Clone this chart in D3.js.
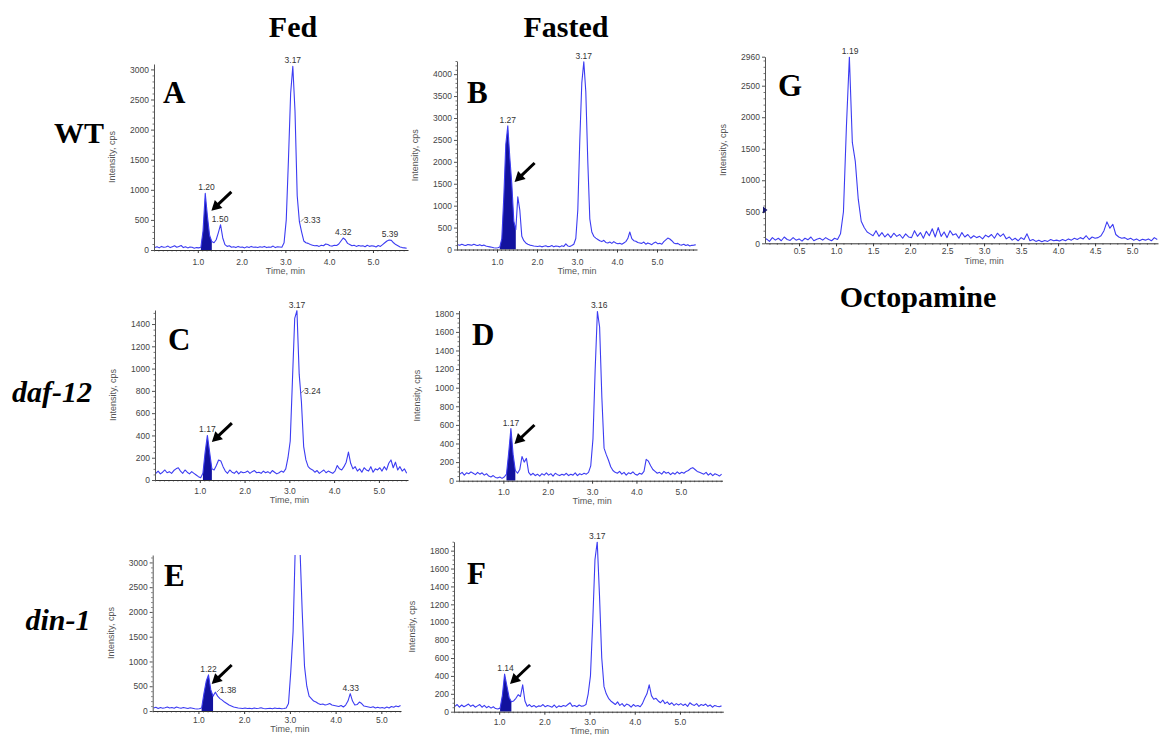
<!DOCTYPE html>
<html><head><meta charset="utf-8">
<script src="https://cdn.jsdelivr.net/npm/d3@7"></script>
<style>body{margin:0;background:#fff}</style>
</head><body><svg id="c" width="1160" height="735"></svg>
<script>
// ---- sampling grid (instrument scan times) ----
const tStart = 0.02, tStep = 0.05, tStepG = 0.04;

// ---- intensities (cps) ----
const valsA = [
 40,55,35,60,45,50,65,40,55,70,
 45,60,75,40,55,35,50,45,30,40,
 35,45,320,940,560,240,140,120,170,290,
 420,200,90,60,70,45,55,40,60,45,
 50,35,55,40,60,45,50,40,55,45,
 60,40,50,45,65,40,55,50,45,120,
 500,1500,2600,3050,2300,900,470,300,150,120,
 110,90,80,70,75,60,80,70,100,90,
 70,65,80,75,100,150,200,170,110,90,
 70,80,60,75,65,70,55,80,60,70,
 65,50,75,60,90,120,150,165,160,120,
 90,70,50,40,35,30];
const valsB = [
 110,95,120,100,90,115,105,95,120,100,
 90,110,85,100,80,70,60,50,40,35,
 40,55,250,1200,2400,2820,2100,1500,650,450,
 1200,900,300,200,150,120,100,90,80,75,
 70,80,60,75,85,65,70,90,60,80,
 75,60,85,70,130,80,70,90,120,250,
 900,2500,3800,4280,3600,2000,700,400,300,260,
 230,200,180,210,160,150,170,140,180,150,
 130,140,120,150,180,250,400,250,200,190,
 160,150,140,170,120,150,130,110,150,170,
 130,140,120,180,220,260,240,200,150,130,
 140,110,100,120,90,110,80,95,100,110];
const valsC = [
 60,80,55,70,90,65,75,60,85,100,
 110,80,60,90,70,55,75,60,45,30,
 20,60,250,400,250,100,90,130,180,170,
 120,80,60,90,70,60,80,55,75,65,
 70,80,60,75,85,65,70,60,80,65,
 75,60,85,70,55,65,80,70,100,200,
 350,900,1450,1520,950,700,300,180,120,100,
 90,70,85,60,75,90,65,80,70,60,
 80,130,100,90,120,160,250,150,100,120,
 80,100,70,110,90,80,120,70,100,90,
 110,80,120,90,150,180,110,160,90,120,
 80,100,60];
const valsD = [
 70,90,60,85,75,95,80,65,90,70,
 85,60,75,50,40,55,35,30,40,25,
 40,70,300,560,280,110,80,120,260,200,
 240,90,60,80,55,70,50,75,60,85,
 60,75,50,80,65,55,70,60,80,55,
 70,60,85,55,75,65,80,70,90,160,
 450,1200,1820,1650,900,350,280,220,150,110,
 90,80,100,70,90,60,85,75,95,70,
 60,80,70,100,230,210,160,120,100,80,
 90,70,100,80,90,65,85,70,95,75,
 90,80,100,110,130,140,120,100,90,80,
 70,90,60,80,55,75,65,50,70];
const valsE = [
 60,75,50,70,55,65,80,60,70,55,
 80,65,55,70,60,50,65,55,45,40,
 45,60,350,600,730,430,300,380,300,250,
 220,180,150,120,100,80,70,60,55,50,
 60,50,55,45,60,50,55,65,50,45,
 50,55,45,60,50,55,45,50,60,150,
 800,1600,3400,3500,3300,2000,900,500,300,250,
 200,180,150,130,140,120,130,150,120,110,
 100,90,110,80,120,200,350,200,120,130,
 180,150,100,90,80,70,85,60,75,60,
 70,55,80,60,90,75,100,85,110];
const valsF = [
 60,80,50,75,55,70,85,60,75,50,
 65,80,50,70,45,60,40,55,35,30,
 40,180,420,290,160,110,120,150,190,170,
 300,120,60,80,55,70,50,65,60,80,
 55,70,60,50,75,45,65,55,70,60,
 80,100,60,70,55,75,60,65,80,200,
 400,1000,1700,1900,1300,600,280,200,150,120,
 100,80,110,70,90,60,85,75,50,80,
 60,70,55,90,150,200,300,180,140,150,
 120,100,130,90,110,80,100,70,90,75,
 90,70,85,60,100,80,70,90,60,80,
 70,85,60,75,50,70,60,55,65];
const valsG = [
 40,70,30,90,50,80,40,100,60,45,
 90,50,70,35,80,55,100,40,65,80,
 50,90,60,40,80,60,150,500,1850,2960,
 1600,1300,700,350,250,180,150,120,200,110,
 170,100,150,90,160,110,140,80,150,100,
 90,200,110,170,80,190,120,230,100,250,
 110,180,90,200,130,150,80,170,100,140,
 80,120,90,110,70,130,100,140,80,160,
 110,150,70,100,50,80,40,90,60,150,
 40,60,30,50,25,45,30,60,40,50,
 35,60,40,70,50,80,60,90,70,120,
 60,100,80,90,120,200,340,240,300,140,
 100,80,90,60,80,50,70,40,65,50,
 70,40,90,60];

// ---- tick labels ----
const xTicks = [1.0, 2.0, 3.0, 4.0, 5.0];
const xTicksG = [0.5, 1.0, 1.5, 2.0, 2.5, 3.0, 3.5, 4.0, 4.5, 5.0];
const yTicksA = [0, 500, 1000, 1500, 2000, 2500, 3000];
const yTicksB = [0, 500, 1000, 1500, 2000, 2500, 3000, 3500, 4000];
const yTicksC = [0, 200, 400, 600, 800, 1000, 1200, 1400];
const yTicksD = [0, 200, 400, 600, 800, 1000, 1200, 1400, 1600, 1800];
const yTicksE = [0, 500, 1000, 1500, 2000, 2500, 3000];
const yTicksF = [0, 200, 400, 600, 800, 1000, 1200, 1400, 1600, 1800];
const yTicksG = [0, 500, 1000, 1500, 2000, 2500, 2960];

// ---- peak annotations: [label, time, intensity] ----
const peaksA = [["1.20", 1.20, 940], ["1.50", 1.51, 420], ["3.17", 3.17, 3050], ["4.32", 4.32, 200], ["5.39", 5.39, 165]];
const peaksB = [["1.27", 1.27, 2820], ["3.17", 3.17, 4280]];
const peaksC = [["1.17", 1.17, 400], ["3.17", 3.17, 1520]];
const peaksD = [["1.17", 1.17, 560], ["3.16", 3.16, 1820]];
const peaksE = [["1.22", 1.22, 730], ["4.33", 4.33, 350]];
const peaksF = [["1.14", 1.14, 420], ["3.17", 3.17, 1900]];
const peaksG = [["1.19", 1.19, 2960]];
const shouldersA = [["3.33", 3.33, 470]];
const shouldersC = [["3.24", 3.24, 780]];
const shouldersE = [["1.38", 1.38, 380]];

// ---- integrated (filled) octopamine peak windows [t0, t1] ----
const fillA = [1.07, 1.32];
const fillB = [1.07, 1.47];
const fillC = [1.07, 1.27];
const fillD = [1.07, 1.27];
const fillE = [1.07, 1.32];
const fillF = [1.02, 1.27];
// arrow tips [time, intensity]
const arrowA = [1.31, 650];
const arrowB = [1.44, 1540];
const arrowC = [1.27, 340];
const arrowD = [1.25, 395];
const arrowE = [1.29, 545];
const arrowF = [1.24, 310];

const SANS = "'Liberation Sans Narrow','Arial Narrow','Liberation Sans',Arial,sans-serif";
const SERIF = "'Liberation Serif','Times New Roman',serif";
const LINE = "#3c3cf2", FILL = "#12129e";
const TICKFS = 8.5;

const svg = d3.select("#c");
svg.append("rect").attr("width", 1160).attr("height", 735).attr("fill", "#fff");
const defs = svg.append("defs");

const panels = [
 {id:"A", vals:valsA, dt:tStep, xd:[0,5.8], xr:[154,408], yd:[0,3090], yr:[250,64], yTicks:yTicksA, yMinor:100, xTicks:xTicks, peaks:peaksA, shoulders:shouldersA, fill:fillA, arrow:arrowA, letter:[163,103], tickDy:15, timeDy:24},
 {id:"B", vals:valsB, dt:tStep, xd:[0,6.0], xr:[457,697], yd:[0,4300], yr:[249.5,61], yTicks:yTicksB, yMinor:100, xTicks:xTicks, peaks:peaksB, shoulders:[], fill:fillB, arrow:arrowB, letter:[467,103], tickDy:15, timeDy:24},
 {id:"G", vals:valsG, dt:tStepG, xd:[0.04,5.35], xr:[765,1158], yd:[0,2960], yr:[243.3,56.7], yTicks:yTicksG, yMinor:100, xTicks:xTicksG, peaks:peaksG, shoulders:[], fill:null, arrow:null, letter:[778,96], tickDy:11, timeDy:21},
 {id:"C", vals:valsC, dt:tStep, xd:[0,5.65], xr:[155,408], yd:[0,1526], yr:[480,310], yTicks:yTicksC, yMinor:50, xTicks:xTicks, peaks:peaksC, shoulders:shouldersC, fill:fillC, arrow:arrowC, letter:[168,350], tickDy:14, timeDy:23},
 {id:"D", vals:valsD, dt:tStep, xd:[0,5.94], xr:[459,722.5], yd:[0,1830], yr:[480.7,310.5], yTicks:yTicksD, yMinor:50, xTicks:xTicks, peaks:peaksD, shoulders:[], fill:fillD, arrow:arrowD, letter:[472,345], tickDy:14, timeDy:23},
 {id:"E", vals:valsE, dt:tStep, xd:[0,5.43], xr:[152.7,401], yd:[0,3150], yr:[711,555], yTicks:yTicksE, yMinor:100, xTicks:xTicks, peaks:peaksE, shoulders:shouldersE, fill:fillE, arrow:arrowE, letter:[164,586], tickDy:12, timeDy:21},
 {id:"F", vals:valsF, dt:tStep, xd:[0,5.96], xr:[454,723.3], yd:[0,1900], yr:[711.7,541.7], yTicks:yTicksF, yMinor:50, xTicks:xTicks, peaks:peaksF, shoulders:[], fill:fillF, arrow:arrowF, letter:[467,584], tickDy:13, timeDy:22}
];

function drawArrow(g, tip) {
  const tail = [tip[0] + 20, tip[1] - 19];
  const dx = tip[0] - tail[0], dy = tip[1] - tail[1], L = Math.hypot(dx, dy);
  const ux = dx / L, uy = dy / L, hl = 10, hw = 5.5;
  const base = [tip[0] - ux * hl, tip[1] - uy * hl];
  g.append("line").attr("x1", tail[0]).attr("y1", tail[1]).attr("x2", base[0] + ux * 1).attr("y2", base[1] + uy * 1)
    .attr("stroke", "#000").attr("stroke-width", 3);
  g.append("path").attr("d", `M${tip[0]},${tip[1]}L${base[0] - uy * hw},${base[1] + ux * hw}L${base[0] + uy * hw},${base[1] - ux * hw}Z`)
    .attr("fill", "#000");
}

panels.forEach(p => {
  const g = svg.append("g");
  const x = d3.scaleLinear().domain(p.xd).range(p.xr);
  const y = d3.scaleLinear().domain(p.yd).range(p.yr);
  const pts = p.vals.map((v, i) => [+(tStart + i * p.dt).toFixed(3), v]);

  const cid = "clip" + p.id;
  defs.append("clipPath").attr("id", cid).append("rect")
    .attr("x", p.xr[0]).attr("y", p.yr[1]).attr("width", p.xr[1] - p.xr[0]).attr("height", p.yr[0] - p.yr[1]);
  const plot = g.append("g").attr("clip-path", `url(#${cid})`);

  if (p.fill) {
    const fp = pts.filter(d => d[0] >= p.fill[0] - 1e-6 && d[0] <= p.fill[1] + 1e-6);
    plot.append("path").datum(fp)
      .attr("d", d3.area().x(d => x(d[0])).y0(y(0)).y1(d => y(d[1])))
      .attr("fill", FILL);
  }
  plot.append("path").datum(pts)
    .attr("d", d3.line().x(d => x(d[0])).y(d => y(d[1])))
    .attr("fill", "none").attr("stroke", LINE).attr("stroke-width", 1.1).attr("stroke-linejoin", "round");

  // minor ticks
  const yMin = d3.range(0, p.yd[1] + 1e-6, p.yMinor).filter(v => !p.yTicks.includes(v));
  g.append("g").attr("transform", `translate(${p.xr[0]},0)`)
    .call(d3.axisLeft(y).tickValues(yMin).tickSize(1.5).tickSizeOuter(0).tickFormat(""))
    .call(a => a.select(".domain").remove())
    .selectAll("line").attr("stroke", "#777");
  const xMin = d3.range(Math.ceil(p.xd[0] * 10) / 10, p.xd[1], 0.1).filter(v => !p.xTicks.some(t => Math.abs(t - v) < 1e-6));
  g.append("g").attr("transform", `translate(0,${p.yr[0]})`)
    .call(d3.axisBottom(x).tickValues(xMin).tickSize(1.5).tickSizeOuter(0).tickFormat(""))
    .call(a => a.select(".domain").remove())
    .selectAll("line").attr("stroke", "#777");

  // major axes
  const ya = g.append("g").attr("transform", `translate(${p.xr[0]},0)`)
    .call(d3.axisLeft(y).tickValues(p.yTicks).tickSize(3).tickSizeOuter(0).tickPadding(2).tickFormat(d3.format("d")));
  ya.select(".domain").attr("stroke", "#555");
  ya.selectAll("line").attr("stroke", "#555");
  ya.selectAll("text").attr("font-family", SANS).attr("font-size", TICKFS).attr("fill", "#444");

  const xa = g.append("g").attr("transform", `translate(0,${p.yr[0]})`)
    .call(d3.axisBottom(x).tickValues(p.xTicks).tickSize(3).tickSizeOuter(0).tickFormat(d3.format(".1f")));
  xa.select(".domain").attr("stroke", "#333");
  xa.selectAll("line").attr("stroke", "#333");
  xa.selectAll("text").attr("y", p.tickDy).attr("dy", 0)
    .attr("font-family", SANS).attr("font-size", TICKFS).attr("fill", "#444");

  // axis titles
  g.append("text").attr("transform", `translate(${p.xr[0] - 42},${(p.yr[0] + p.yr[1]) / 2}) rotate(-90)`)
    .attr("text-anchor", "middle").attr("dy", "0.35em")
    .attr("font-family", SANS).attr("font-size", 9).attr("fill", "#555").text("Intensity, cps");
  g.append("text").attr("x", x(3.0)).attr("y", p.yr[0] + p.timeDy).attr("text-anchor", "middle")
    .attr("font-family", SANS).attr("font-size", 9).attr("fill", "#555").text("Time, min");

  // peak labels
  p.peaks.forEach(([lab, t, v]) => {
    g.append("text").attr("x", x(t)).attr("y", y(v) - 3).attr("text-anchor", "middle")
      .attr("font-family", SANS).attr("font-size", TICKFS).attr("fill", "#333").text(lab);
  });
  p.shoulders.forEach(([lab, t, v]) => {
    g.append("line").attr("x1", x(t) + 1).attr("y1", y(v)).attr("x2", x(t) + 4).attr("y2", y(v) - 3)
      .attr("stroke", "#555").attr("stroke-width", 0.7);
    g.append("text").attr("x", x(t) + 4).attr("y", y(v) + 1).attr("text-anchor", "start")
      .attr("font-family", SANS).attr("font-size", TICKFS).attr("fill", "#333").text(lab);
  });

  if (p.arrow) drawArrow(g, [x(p.arrow[0]), y(p.arrow[1])]);

  if (p.id === "G") {
    const yy = y(530), xx = p.xr[0] - 2;
    g.append("path").attr("d", `M${xx},${yy - 3.5}L${xx + 4.5},${yy}L${xx},${yy + 3.5}Z`).attr("fill", "#1a1a6e");
  }

  g.append("text").attr("x", p.letter[0]).attr("y", p.letter[1])
    .attr("font-family", SERIF).attr("font-weight", "bold").attr("font-size", 31).attr("fill", "#000").text(p.id);
});

// column / row headers
const headers = [
 {t:"Fed", x:293, y:37, it:false},
 {t:"Fasted", x:566, y:37, it:false},
 {t:"WT", x:79, y:143, it:false},
 {t:"daf-12", x:52, y:402, it:true},
 {t:"din-1", x:58, y:630, it:true},
 {t:"Octopamine", x:918, y:307, it:false}
];
headers.forEach(h => {
  svg.append("text").attr("x", h.x).attr("y", h.y).attr("text-anchor", "middle")
    .attr("font-family", SERIF).attr("font-weight", "bold").attr("font-style", h.it ? "italic" : "normal")
    .attr("font-size", 30).attr("fill", "#000").text(h.t);
});
</script>
</body></html>
